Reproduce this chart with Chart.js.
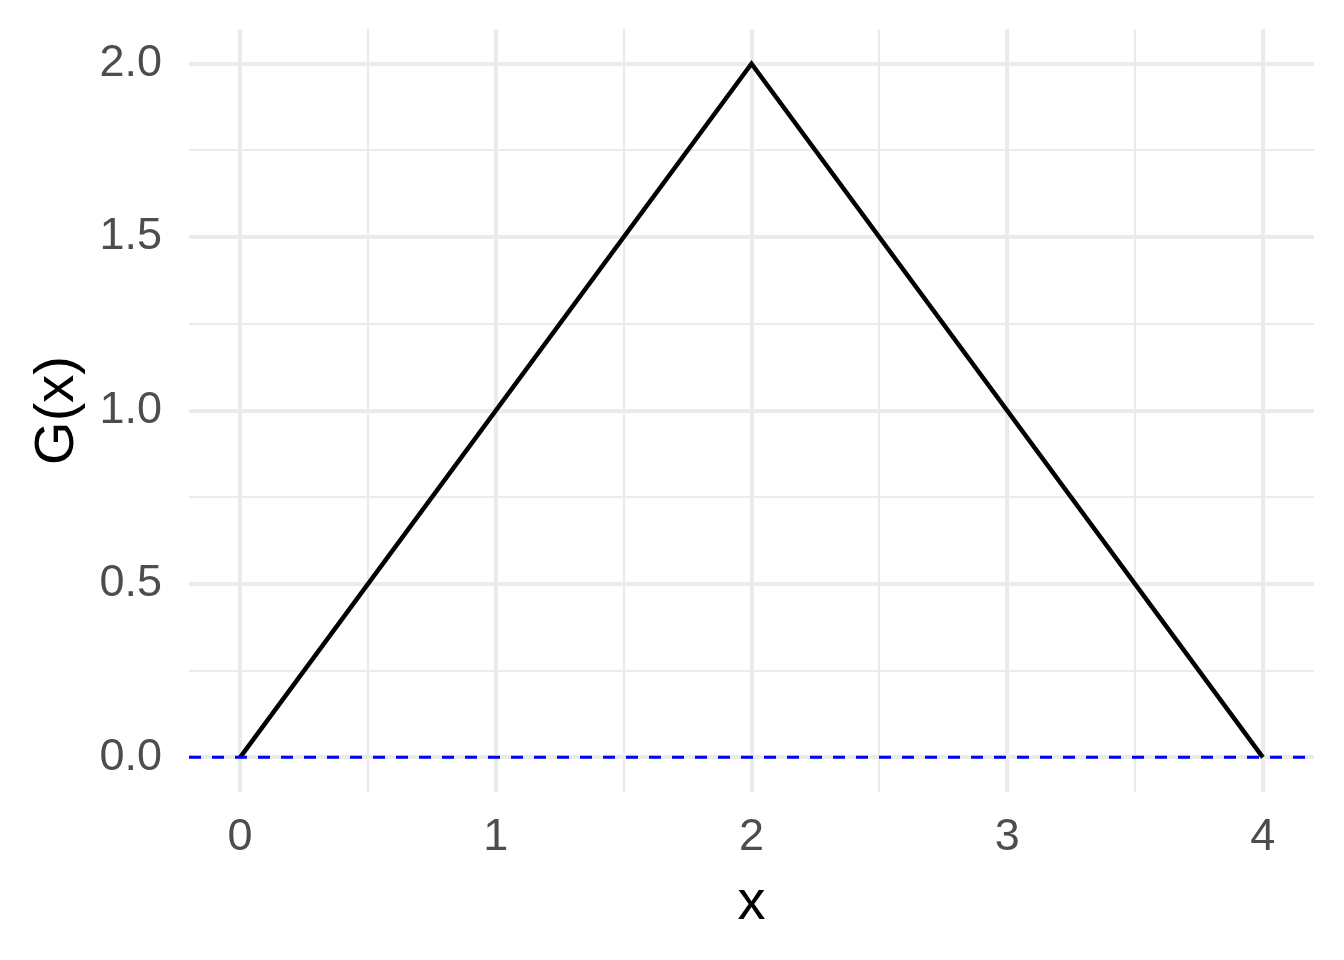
<!DOCTYPE html>
<html>
<head>
<meta charset="utf-8">
<script src="https://cdn.jsdelivr.net/npm/chart.js@4.4.1/dist/chart.umd.min.js"></script>
<style>
  html, body { margin: 0; padding: 0; background: #fff; }
  #wrap { width: 1344px; height: 960px; }
</style>
</head>
<body>
<div id="wrap"><canvas id="chart"></canvas></div>
<script>
// G(x) triangle
const xValues = [0, 2, 4];
const gValues = [0, 2, 0];
const hlineY = 0;

// axis limits and grid positions
const xMin = -0.2, xMax = 4.2;
const yMin = -0.1, yMax = 2.1;
const xGrid = [0, 0.5, 1, 1.5, 2, 2.5, 3, 3.5, 4];
const xLabels = [0, 1, 2, 3, 4];
const yGrid = [0, 0.25, 0.5, 0.75, 1, 1.25, 1.5, 1.75, 2];
const yLabels = [0, 0.5, 1, 1.5, 2];

const gridColor = '#EBEBEB';
const tickColor = '#4D4D4D';
const fontFamily = '"Liberation Sans", Arial, sans-serif';

const curve = xValues.map((x, i) => ({ x: x, y: gValues[i] }));
const hline = [{ x: xMin, y: hlineY }, { x: xMax, y: hlineY }];

new Chart(document.getElementById('chart'), {
  type: 'line',
  data: {
    datasets: [{
      label: 'hline',
      data: hline,
      borderColor: '#0000FF',
      borderWidth: 3,
      borderDash: [12, 11],
      pointRadius: 0,
      order: 0
    }, {
      label: 'G(x)',
      data: curve,
      borderColor: '#000000',
      borderWidth: 4.5,
      pointRadius: 0,
      borderJoinStyle: 'miter',
      order: 1
    }]
  },
  options: {
    responsive: true,
    maintainAspectRatio: false,
    animation: false,
    layout: { padding: { left: 0, right: 30, top: 29, bottom: 0 } },
    plugins: {
      legend: { display: false },
      tooltip: { enabled: false }
    },
    scales: {
      x: {
        type: 'linear',
        min: xMin,
        max: xMax,
        afterBuildTicks: scale => { scale.ticks = xGrid.map(v => ({ value: v })); },
        afterFit: scale => {
          scale.height = 168;
          scale.paddingLeft = 0;
          scale.paddingRight = 0;
        },
        border: { display: false },
        grid: {
          color: gridColor,
          drawTicks: false,
          lineWidth: ctx => xLabels.includes(ctx.tick.value) ? 4 : 2
        },
        ticks: {
          autoSkip: false,
          maxRotation: 0,
          padding: 19,
          color: tickColor,
          font: { family: fontFamily, size: 45 },
          callback: v => xLabels.includes(v) ? String(v) : ''
        },
        title: {
          display: true,
          text: 'x',
          color: '#000000',
          padding: 23,
          font: { family: fontFamily, size: 56 }
        }
      },
      y: {
        type: 'linear',
        min: yMin,
        max: yMax,
        afterBuildTicks: scale => { scale.ticks = yGrid.map(v => ({ value: v })); },
        afterFit: scale => {
          scale.width = 189;
          scale.paddingTop = 0;
          scale.paddingBottom = 0;
        },
        border: { display: false },
        grid: {
          color: gridColor,
          drawTicks: false,
          lineWidth: ctx => yLabels.includes(ctx.tick.value) ? 4 : 2
        },
        ticks: {
          autoSkip: false,
          padding: 27,
          color: tickColor,
          font: { family: fontFamily, size: 45 },
          callback: v => yLabels.includes(v) ? v.toFixed(1) : ''
        },
        title: {
          display: true,
          text: 'G(x)',
          color: '#000000',
          padding: 24,
          font: { family: fontFamily, size: 56 }
        }
      }
    }
  }
});
</script>
</body>
</html>
